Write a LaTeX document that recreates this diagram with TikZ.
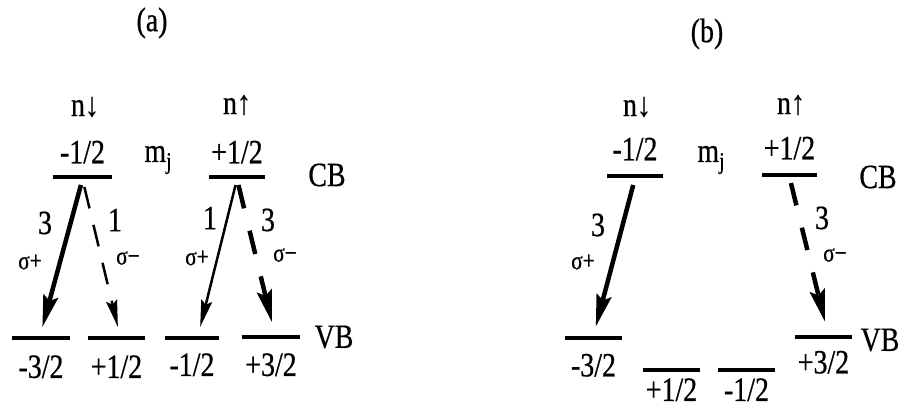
\documentclass[tikz,border=0pt]{standalone}
\usepackage{fontspec}
\setmainfont[FakeStretch=0.82,FakeBold=0.6]{Liberation Serif}
\usetikzlibrary{arrows.meta,positioning}

\begin{document}
\begin{tikzpicture}[x=1pt,y=-1pt,font=\fontsize{34}{36}\selectfont,
  lvl/.style={fill=black,inner sep=0pt,minimum height=4pt,minimum width=57pt},
  mj/.style={inner sep=0pt},
  pol/.style={inner sep=0pt,font=\fontsize{26}{28}\selectfont},
  strong/.style={line width=4.5pt,-{Stealth[length=32pt,width=15pt,inset=5pt]}},
  weak/.style={line width=2.5pt,-{Stealth[length=27pt,width=11pt,inset=4pt]}},
  gapped/.style={dash pattern=on 22pt off 17pt}]
\useasboundingbox (0,0) rectangle (908,414);
% panel (a)
\node (atitle) at (152,23) {(a)};
\node[lvl,minimum width=59pt] (aC1) at (82.5,177) {};
\node[lvl,minimum width=56pt] (aC2) at (237,177) {};
\node[lvl,minimum width=58pt] (aV1) at (41,338) {};
\node[lvl] (aV2) at (116.5,338) {};
\node[lvl,minimum width=54pt] (aV3) at (192,338) {};
\node[lvl,minimum width=58pt] (aV4) at (271,337) {};
\node[inner sep=0pt,above=11pt of aC1] (aC1lab) {-1/2};
\node[inner sep=0pt,above=11pt of aC2] (aC2lab) {+1/2};
\node[inner sep=0pt,below=15pt of aV1] (aV1lab) {-3/2};
\node[inner sep=0pt,below=15pt of aV2] (aV2lab) {+1/2};
\node[inner sep=0pt,below=13pt of aV3] (aV3lab) {-1/2};
\node[inner sep=0pt,below=14pt of aV4] (aV4lab) {+3/2};
\node (adn) at (85,107) {n↓};
\node (aup) at (237,105) {n↑};
\node[mj] (amj) at (158,160) {m\raisebox{-0.45ex}{\fontsize{24}{26}\selectfont j}};
\node (aCB) at (327,175) {CB};
\node (aVB) at (334,337) {VB};
\draw[strong] (aC1.south) -- ([xshift=-1pt]aV1.north) [shorten <=6pt,shorten >=9pt];
\draw[weak,gapped] (aC1.south) -- ([xshift=3.5pt]aV2.north) [shorten <=8pt,shorten >=9pt];
\draw[weak] (aC2.south) -- ([xshift=6pt]aV3.north) [shorten <=6pt,shorten >=9pt];
\draw[strong,dash pattern=on 24pt off 23pt] (aC2.south) -- ([xshift=4pt]aV4.north) [shorten <=6pt,shorten >=13pt];
\node (aw1) at (45,223) {3};
\node[pol] (as1) at (30,262) {σ+};
\node (aw2) at (115,220) {1};
\node[pol] (as2) at (128,258) {σ−};
\node (aw3) at (210,218) {1};
\node[pol] (as3) at (197,258) {σ+};
\node (aw4) at (268,220) {3};
\node[pol] (as4) at (285,255) {σ−};
% panel (b)
\node (btitle) at (707,34) {(b)};
\node[lvl,minimum width=56pt] (bC1) at (635,176) {};
\node[lvl,minimum width=55pt] (bC2) at (789.5,175) {};
\node[lvl] (bV1) at (593.5,337.5) {};
\node[lvl] (bV4) at (823.5,336.5) {};
\node[lvl] (bV2) at (671.5,370) {};
\node[lvl] (bV3) at (746.5,370) {};
\node[inner sep=0pt,above=13pt of bC1] (bC1lab) {-1/2};
\node[inner sep=0pt,above=13pt of bC2] (bC2lab) {+1/2};
\node[inner sep=0pt,below=14pt of bV1] (bV1lab) {-3/2};
\node[inner sep=0pt,below=12pt of bV4] (bV4lab) {+3/2};
\node[inner sep=0pt,below=6pt of bV2] (bV2lab) {+1/2};
\node[inner sep=0pt,below=6pt of bV3] (bV3lab) {-1/2};
\node (bdn) at (637,107) {n↓};
\node (bup) at (791,105) {n↑};
\node[mj] (bmj) at (711,160) {m\raisebox{-0.45ex}{\fontsize{24}{26}\selectfont j}};
\node (bCB) at (878,177) {CB};
\node (bVB) at (880,340) {VB};
\draw[strong] (bC1.south) -- (bV1.north) [shorten <=7pt,shorten >=9pt];
\draw[strong,dash pattern=on 23pt off 23pt] (bC2.south) -- ([xshift=4.5pt]bV4.north) [shorten <=6pt,shorten >=13pt];
\node (bw1) at (598,225) {3};
\node[pol] (bs1) at (583,262) {σ+};
\node (bw2) at (822,218) {3};
\node[pol] (bs2) at (835,255) {σ−};
\end{tikzpicture}
\end{document}
